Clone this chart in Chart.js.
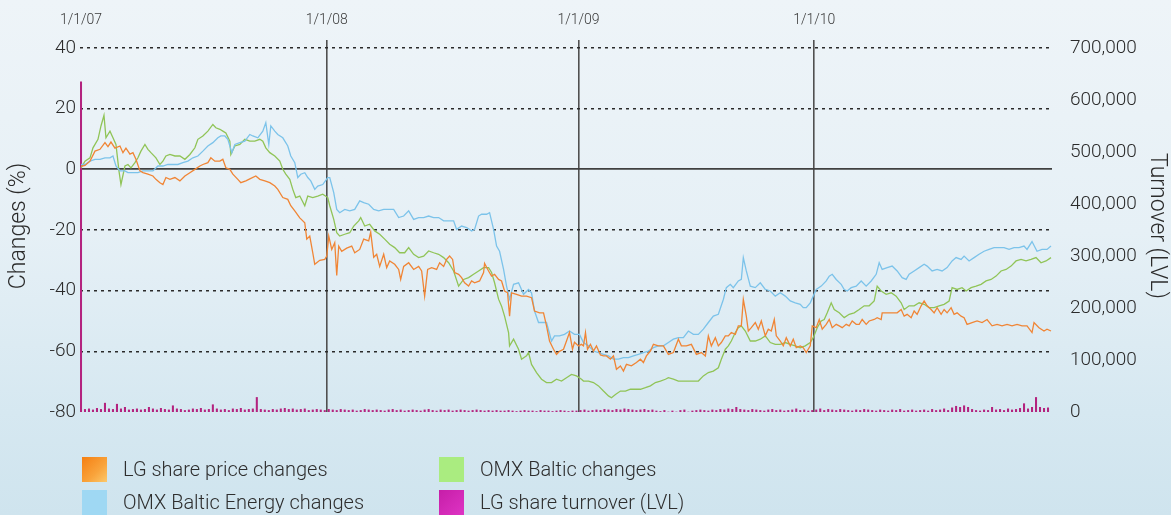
<!DOCTYPE html>
<html>
<head>
<meta charset="utf-8">
<script src="https://cdn.jsdelivr.net/npm/chart.js@4.4.1/dist/chart.umd.min.js"></script>
<style>
  html, body { margin: 0; padding: 0; }
  body {
    width: 1171px; height: 515px; overflow: hidden; position: relative;
    background: linear-gradient(180deg, #eef4f8 0%, #e6f0f6 45%, #d6e8f1 80%, #cfe4ee 100%);
    font-family: "Roboto", sans-serif;
  }
  #wrap { position: absolute; left: 0; top: 0; width: 1171px; height: 515px; }
  .leg { position: absolute; font-size: 20px; font-weight: 300; color: #2e2e2e; line-height: 25px; white-space: nowrap; }
  .leg i { position: absolute; left: 0; top: 0; width: 25px; height: 25px; }
  .leg span { position: absolute; left: 41px; top: 0; }
</style>
</head>
<body>
<div id="wrap"><canvas id="chart"></canvas></div>
<div class="leg" style="left:82px;top:457px"><i style="background:linear-gradient(135deg,#f57f12,#f9a43c 60%,#fcc86a)"></i><span>LG share price changes</span></div>
<div class="leg" style="left:82px;top:490px"><i style="background:#9fd8f3"></i><span>OMX Baltic Energy changes</span></div>
<div class="leg" style="left:439px;top:457px"><i style="background:#aaec80"></i><span>OMX Baltic changes</span></div>
<div class="leg" style="left:439px;top:490px"><i style="background:linear-gradient(135deg,#c61ea8,#de34c4)"></i><span>LG share turnover (LVL)</span></div>
<script>
// x = trading day counted from 1/1/07
const yearStarts = [0, 246, 498, 734];
const yearLabels = ['1/1/07', '1/1/08', '1/1/09', '1/1/10'];
const changeTicks = [-80, -60, -40, -20, 0, 20, 40];
const turnoverTicks = [0, 100000, 200000, 300000, 400000, 500000, 600000, 700000];

// [day, % change]
const lgPrice = [
  [0,1],[4,1.3],[9,2.7],[14,6],[19,6.6],[24,8.8],[27,7.5],[30,9],[34,7],[39,7.7],[42,5.5],[45,7],[49,5],[52,5.5],[55,3.3],[59,-0.5],[62,-1.1],[67,-1.6],[72,-2.2],[75,-3.3],[79,-4.4],[82,-5],[85,-2.7],[89,-3.3],[94,-2.7],[99,-3.8],[104,-2.2],[109,-1.1],[114,0],[119,1.1],[122,1.6],[127,2.2],[130,3.8],[134,2.7],[139,2.7],[142,3.3],[145,0.5],[149,0],[152,-1.6],[157,-3.3],[160,-4.4],[165,-3.8],[170,-3],[175,-2.2],[179,-3.3],[184,-3.8],[189,-4.4],[194,-5.5],[197,-6.6],[202,-9.3],[207,-9.9],[210,-12],[214,-13.7],[219,-16],[224,-17.6],[226,-23],[229,-22],[232,-27.5],[234,-31.3],[239,-30],[244,-29.7],[246,-28.6],
  [248,-22],[251,-26.4],[254,-24.2],[256,-35],[258,-25.3],[261,-27],[266,-26],[271,-25.3],[274,-27.5],[279,-26.4],[283,-23],[288,-23.6],[290,-20.7],[293,-29],[296,-28],[299,-32],[303,-28],[306,-32.4],[309,-30.2],[314,-31.3],[318,-33],[320,-36.3],[323,-32],[328,-30.8],[333,-33],[338,-32],[341,-33.5],[344,-41.8],[347,-33],[351,-32.4],[356,-33],[359,-30.8],[363,-32],[366,-29.7],[369,-28.6],[372,-29.7],[374,-34],[378,-34.6],[381,-35.7],[384,-37.4],[388,-38.5],[391,-36.8],[394,-37.4],[399,-36.8],[403,-34],[404,-31],[408,-33.5],[411,-35.2],[414,-34.6],[418,-36.3],[421,-36.8],[424,-40.1],[427,-40.7],[429,-48.4],[431,-40.7],[436,-41.2],[441,-41.8],[446,-41.8],[451,-42.3],[454,-46.7],[459,-47.3],[463,-47.3],[466,-51.6],[469,-56.6],[473,-59.3],[476,-61],[479,-60],[483,-59.3],[486,-56.6],[489,-53.8],[492,-59.3],[494,-57],[498,-58.2],
  [501,-57.7],[503,-58.2],[505,-53.8],[507,-59.3],[510,-57.7],[513,-59.9],[516,-58.2],[520,-61.2],[523,-61.5],[526,-61.5],[530,-62.6],[533,-61.5],[536,-65.9],[540,-64.8],[543,-66.5],[546,-64.3],[551,-64.8],[556,-63.7],[560,-62.6],[563,-63.7],[566,-61.5],[570,-59.9],[573,-57.7],[578,-58.2],[583,-58.2],[588,-61],[593,-60.4],[598,-56],[601,-58.2],[606,-58.2],[611,-57.7],[616,-61],[621,-60.4],[625,-61.5],[628,-54.9],[631,-58.2],[635,-55.5],[638,-58.2],[641,-57.1],[645,-54.9],[648,-54.9],[651,-53.8],[655,-54.4],[658,-51.6],[661,-51.6],[663,-42.9],[666,-48.4],[668,-53.3],[671,-52.2],[675,-50.5],[678,-52.7],[681,-50],[685,-54.9],[688,-52.7],[691,-53.3],[694,-49.5],[696,-54.9],[700,-56.6],[703,-58.2],[706,-55.5],[710,-58.2],[713,-56],[716,-58.8],[720,-58.2],[723,-58.8],[726,-60.4],[730,-58.2],[732,-51.6],
  [736,-52.2],[739,-49.5],[742,-52.7],[746,-51.1],[749,-49.5],[752,-52.2],[756,-51.1],[759,-51.6],[762,-52.2],[766,-51.1],[769,-51.6],[772,-50],[776,-51.1],[779,-51.1],[782,-49.5],[786,-51.1],[789,-50],[794,-49.5],[797,-48.9],[801,-49.5],[802,-47.3],[807,-47.3],[812,-47.3],[817,-47.3],[821,-46.2],[824,-48.4],[827,-47.8],[831,-48.9],[834,-46.7],[837,-47.8],[841,-45],[844,-43.4],[847,-45],[851,-46.2],[854,-47.3],[857,-45.6],[861,-47.8],[864,-46.2],[867,-47.3],[871,-45.6],[874,-47.8],[877,-47.3],[881,-48.4],[884,-48.9],[887,-51.1],[892,-50.5],[897,-50],[902,-50.5],[907,-49.5],[912,-51.6],[917,-51.1],[922,-51.6],[927,-51.1],[932,-51.6],[937,-51.1],[942,-51.6],[947,-51.6],[952,-53.8],[954,-50.5],[959,-52.2],[964,-53.3],[967,-52.7],[971,-53.3]
];

const omxBalticEnergy = [
  [0,1.6],[4,1.6],[9,2.7],[14,3.3],[19,3.3],[24,3.8],[29,3.8],[32,4.4],[35,1.1],[39,-0.5],[44,-0.5],[47,-1.1],[52,-1.1],[57,-1.1],[62,-0.5],[67,-0.5],[72,-0.5],[77,1.1],[82,1.1],[87,1.6],[92,1.6],[97,1.6],[102,2.2],[107,2.7],[112,3.8],[117,4.4],[122,6],[127,7.7],[132,8.8],[137,10.4],[140,11],[144,11],[147,9.9],[151,5.5],[154,8.2],[159,8.8],[164,9.3],[169,11.5],[172,11],[177,10.4],[182,12.6],[185,15.4],[188,8.2],[190,14.3],[194,12.6],[197,11.5],[202,10.4],[207,7.7],[210,4.4],[214,2.2],[217,-2.7],[220,-1.6],[224,-1.1],[227,-2.7],[230,-3.8],[234,-6.6],[237,-5.5],[242,-5],[247,-2.7],
  [249,-2.7],[253,-7.7],[256,-13.2],[259,-14.3],[264,-13.2],[269,-13.7],[274,-13.2],[279,-10.4],[283,-11],[288,-11.5],[293,-13.2],[298,-13.7],[303,-13.2],[308,-13.2],[313,-13.2],[318,-15.9],[323,-15.4],[328,-13.7],[333,-16.5],[338,-15.9],[343,-15.9],[348,-15.4],[353,-15.9],[358,-15.9],[363,-17],[368,-17],[373,-17],[376,-19.8],[381,-18.7],[386,-19.2],[391,-20.3],[394,-19.8],[398,-15.4],[401,-14.8],[406,-14.8],[409,-14.3],[413,-19.8],[416,-25.3],[419,-27],[423,-33],[426,-38.5],[429,-42.8],[433,-37.9],[438,-37.4],[443,-41.2],[448,-39.6],[451,-40.7],[454,-46.7],[458,-50.5],[463,-50.5],[466,-50.5],[471,-56.6],[474,-54.9],[479,-54.9],[484,-54.4],[489,-53.3],[494,-54.4],[499,-54.4],
  [503,-57.1],[508,-58.2],[513,-59.9],[518,-60.4],[523,-61],[528,-61.5],[533,-62.6],[538,-62.6],[543,-62.1],[548,-62.1],[553,-61.5],[558,-61],[563,-60.4],[568,-59.9],[573,-58.8],[578,-58.2],[583,-58.2],[588,-57.1],[593,-56],[598,-55.5],[603,-55.5],[608,-53.3],[613,-54.4],[618,-54.4],[623,-52.7],[628,-50.5],[633,-48.4],[638,-47.8],[643,-42.9],[646,-39],[650,-37.9],[653,-39],[658,-36.8],[661,-36.3],[663,-29.1],[666,-33.5],[670,-38.5],[675,-39],[680,-37.4],[685,-39.6],[690,-40.1],[695,-41.8],[700,-40.7],[705,-41.8],[710,-43.4],[715,-44],[720,-44.5],[723,-45.6],[726,-45.6],[730,-44],[733,-41.8],[736,-39.6],
  [741,-38.5],[746,-36.8],[749,-35.2],[752,-34.6],[756,-36.3],[761,-37.9],[764,-39.6],[767,-40.1],[771,-39],[776,-38.5],[781,-36.8],[786,-38.5],[791,-36.8],[796,-34.6],[799,-30.8],[802,-33],[807,-32.4],[812,-31.9],[817,-33.5],[822,-35.7],[826,-36.3],[829,-34.6],[834,-33.5],[839,-32.4],[844,-31.3],[847,-31.9],[852,-33.5],[857,-33],[862,-33.5],[867,-32.4],[872,-30.2],[876,-29.1],[881,-29.7],[884,-28.6],[889,-30.2],[894,-29.1],[899,-28],[904,-27],[909,-26.4],[914,-25.8],[919,-25.8],[924,-25.8],[929,-26.4],[934,-25.8],[939,-25.8],[944,-25.3],[947,-26.4],[952,-23.8],[957,-27],[962,-26.4],[967,-26.4],[971,-25.3]
];

const omxBaltic = [
  [0,0.5],[4,2.7],[9,3.8],[12,7.1],[17,9.9],[20,14.3],[23,17.8],[25,10.4],[29,12.6],[32,10.4],[35,8.2],[38,-0.5],[40,-5],[44,1.1],[47,1.6],[50,0.5],[54,2.2],[57,3.8],[60,6],[64,8.2],[67,6.6],[70,5.5],[75,3.8],[79,1.6],[82,2.7],[85,4.4],[89,4.9],[94,4.4],[99,4.4],[104,3.3],[109,4.9],[114,7.1],[117,9.9],[122,11],[127,12.6],[132,14.8],[135,13.7],[139,13.2],[142,12.6],[145,12],[149,9.3],[150,4.9],[154,7.7],[159,8.2],[164,9.9],[169,9.3],[174,9.3],[179,9.9],[182,9.3],[185,7.1],[189,5.5],[194,4.4],[199,2.7],[202,0],[205,-1.6],[209,-3.3],[212,-6.6],[215,-9.3],[219,-8.8],[224,-12],[227,-8.8],[232,-9.3],[237,-8.8],[242,-8.2],[247,-9.3],
  [249,-12],[253,-16.5],[256,-20.9],[259,-22],[264,-21.4],[269,-20.9],[273,-18.7],[278,-17],[280,-15.9],[284,-18.7],[289,-18.1],[294,-20.3],[299,-21.4],[304,-23],[309,-24.7],[314,-25.8],[319,-27.5],[324,-27.5],[328,-25.8],[333,-28],[338,-29.1],[343,-28.6],[348,-26.9],[353,-27.5],[358,-28],[363,-29.1],[368,-30.8],[373,-33.5],[378,-38.5],[383,-36.3],[388,-35.7],[393,-34.6],[398,-33.5],[403,-32.4],[408,-32.4],[411,-34],[414,-37.4],[418,-42.8],[421,-45.1],[424,-48.4],[428,-53.8],[429,-58.2],[433,-56],[438,-59.3],[441,-62.6],[446,-61.5],[448,-60.4],[451,-64.3],[456,-67],[461,-69.2],[466,-70.3],[471,-70.3],[476,-69.2],[481,-69.8],[486,-68.7],[491,-67.6],[496,-68.1],[501,-69.2],
  [503,-69.8],[508,-69.8],[513,-70.3],[518,-71.4],[523,-73.1],[528,-74.7],[531,-75.3],[535,-74.2],[540,-73.1],[545,-73.1],[550,-72.5],[555,-72.5],[560,-72.5],[565,-72],[570,-71.4],[575,-70.3],[580,-69.8],[585,-69.2],[588,-68.7],[593,-69.2],[598,-69.8],[603,-69.8],[608,-69.8],[613,-69.8],[618,-69.8],[623,-68.1],[628,-67],[633,-66.5],[638,-65.4],[641,-62.6],[645,-59.3],[648,-58.2],[651,-56.6],[655,-53.8],[658,-52.2],[661,-51.6],[665,-53.3],[670,-56.6],[675,-56.6],[680,-56],[685,-54.9],[690,-57.1],[695,-57.7],[700,-57.7],[705,-57.1],[710,-57.7],[715,-58.2],[720,-58.8],[725,-58.2],[730,-57.1],[733,-55.5],
  [737,-52.2],[741,-50],[744,-49.5],[747,-47.3],[751,-44],[754,-46.2],[759,-47.3],[764,-48.9],[769,-47.8],[774,-47.3],[779,-46.2],[784,-45],[789,-45],[794,-43.4],[797,-38.5],[801,-40.1],[806,-41.2],[811,-40.7],[816,-41.8],[821,-44],[824,-46.2],[829,-45],[834,-45],[839,-44],[844,-44.5],[849,-45.6],[854,-45.6],[859,-45],[864,-44.5],[869,-43.4],[872,-39],[877,-39.6],[882,-39],[886,-40.1],[891,-39],[896,-38.5],[901,-37.9],[906,-36.8],[911,-36.3],[916,-35.2],[921,-33.5],[926,-33],[931,-31.9],[936,-30.2],[941,-29.7],[946,-30.2],[951,-29.7],[956,-29.1],[961,-30.8],[966,-30.2],[971,-29.1]
];

// LG share turnover, thousand LVL, one value per 4 trading days from day 0
const turnoverStep = 4;
const lgTurnoverK = [
  635,5,6,4,7,5,17,6,5,15,6,9,4,5,6,4,5,9,6,4,7,5,4,12,6,5,3,4,6,5,7,4,5,14,6,4,5,3,6,5,7,4,5,6,28,5,4,3,5,4,6,7,5,6,4,5,6,3,4,5,4,3,
  5,4,3,5,4,3,4,2,3,5,4,3,4,3,2,4,5,3,4,2,3,4,3,2,4,5,3,2,4,3,4,2,3,4,3,2,3,4,3,2,3,2,3,2,2,3,2,1,2,3,2,2,1,3,2,2,1,2,3,2,1,2,2,
  3,4,2,3,4,3,5,4,3,5,4,6,5,4,3,4,5,3,4,2,1,3,0,2,0,3,4,0,2,3,4,3,2,4,3,5,4,6,5,9,5,4,3,5,4,3,2,4,5,3,4,2,3,4,6,3,4,2,3,
  4,6,3,5,4,3,5,4,3,2,4,3,5,4,3,2,4,3,2,4,3,5,2,3,4,2,3,4,2,5,3,4,6,3,8,11,9,12,9,5,3,2,4,3,9,4,5,3,6,4,5,7,16,6,9,28,9,7,8
];

const pairs = (arr) => arr.map(([x, y]) => ({x: x, y: y}));

Chart.defaults.font.family = 'Roboto, sans-serif';
Chart.defaults.font.weight = '300';
Chart.defaults.color = '#2e2e2e';

new Chart(document.getElementById('chart'), {
  data: {
    datasets: [
      {
        type: 'line', label: 'LG share price changes', data: pairs(lgPrice), yAxisID: 'y',
        borderColor: '#f08535', borderWidth: 1.3, pointRadius: 0, order: 1
      },
      {
        type: 'line', label: 'OMX Baltic Energy changes', data: pairs(omxBalticEnergy), yAxisID: 'y',
        borderColor: '#7cc3ea', borderWidth: 1.3, pointRadius: 0, order: 2
      },
      {
        type: 'line', label: 'OMX Baltic changes', data: pairs(omxBaltic), yAxisID: 'y',
        borderColor: '#90c457', borderWidth: 1.3, pointRadius: 0, order: 3
      },
      {
        type: 'bar', label: 'LG share turnover (LVL)', yAxisID: 'y2',
        data: lgTurnoverK.map((v, i) => ({x: i * turnoverStep, y: v * 1000})),
        backgroundColor: '#b3237f', barThickness: 1.4, grouped: false, order: 4
      }
    ]
  },
  options: {
    responsive: true,
    maintainAspectRatio: false,
    animation: false,
    layout: { padding: { top: 0, left: 0, right: 0, bottom: 103 } },
    plugins: { legend: { display: false }, tooltip: { enabled: false } },
    scales: {
      x: {
        type: 'linear', position: 'top', min: -1, max: 972, offset: false,
        afterBuildTicks: (scale) => { scale.ticks = yearStarts.map((v) => ({value: v})); },
        afterFit: (scale) => { scale.height = 40; },
        ticks: {
          padding: 11, maxRotation: 0, autoSkip: false, color: '#3a3a3a',
          font: { size: 14 },
          callback: (v) => yearLabels[yearStarts.indexOf(v)]
        },
        grid: {
          offset: false, drawTicks: false, lineWidth: 1.6,
          color: (ctx) => ctx.index === 0 ? 'rgba(0,0,0,0)' : '#505050'
        },
        border: { display: false }
      },
      y: {
        position: 'left', min: -80, max: 42.64,
        afterBuildTicks: (scale) => { scale.ticks = changeTicks.map((v) => ({value: v})); },
        afterFit: (scale) => { scale.width = 80; },
        ticks: { padding: 4, font: { size: 19 }, color: '#2b2b2b' },
        title: { display: true, text: 'Changes (%)', font: { size: 23 }, color: '#2b2b2b', padding: { top: 5, bottom: 0 } },
        grid: {
          drawTicks: false,
          lineWidth: (ctx) => ctx.tick && ctx.tick.value === 0 ? 1.8 : 1.5,
          color: (ctx) => {
            if (!ctx.tick || ctx.tick.value === -80) return 'rgba(0,0,0,0)';
            return ctx.tick.value === 0 ? '#404040' : '#2a2a2a';
          }
        },
        border: {
          display: false,
          dash: (ctx) => ctx.tick && ctx.tick.value === 0 ? [] : [3, 4]
        }
      },
      y2: {
        position: 'right', min: 0, max: 715385,
        afterBuildTicks: (scale) => { scale.ticks = turnoverTicks.map((v) => ({value: v})); },
        afterFit: (scale) => { scale.width = 119; },
        ticks: {
          padding: 10, font: { size: 19 }, color: '#2b2b2b',
          callback: (v) => v.toLocaleString('en-US')
        },
        title: { display: true, text: 'Turnover (LVL)', font: { size: 23 }, color: '#2b2b2b', padding: { top: 0, bottom: 0 } },
        grid: { display: false },
        border: { display: false }
      }
    }
  }
});
</script>
</body>
</html>
